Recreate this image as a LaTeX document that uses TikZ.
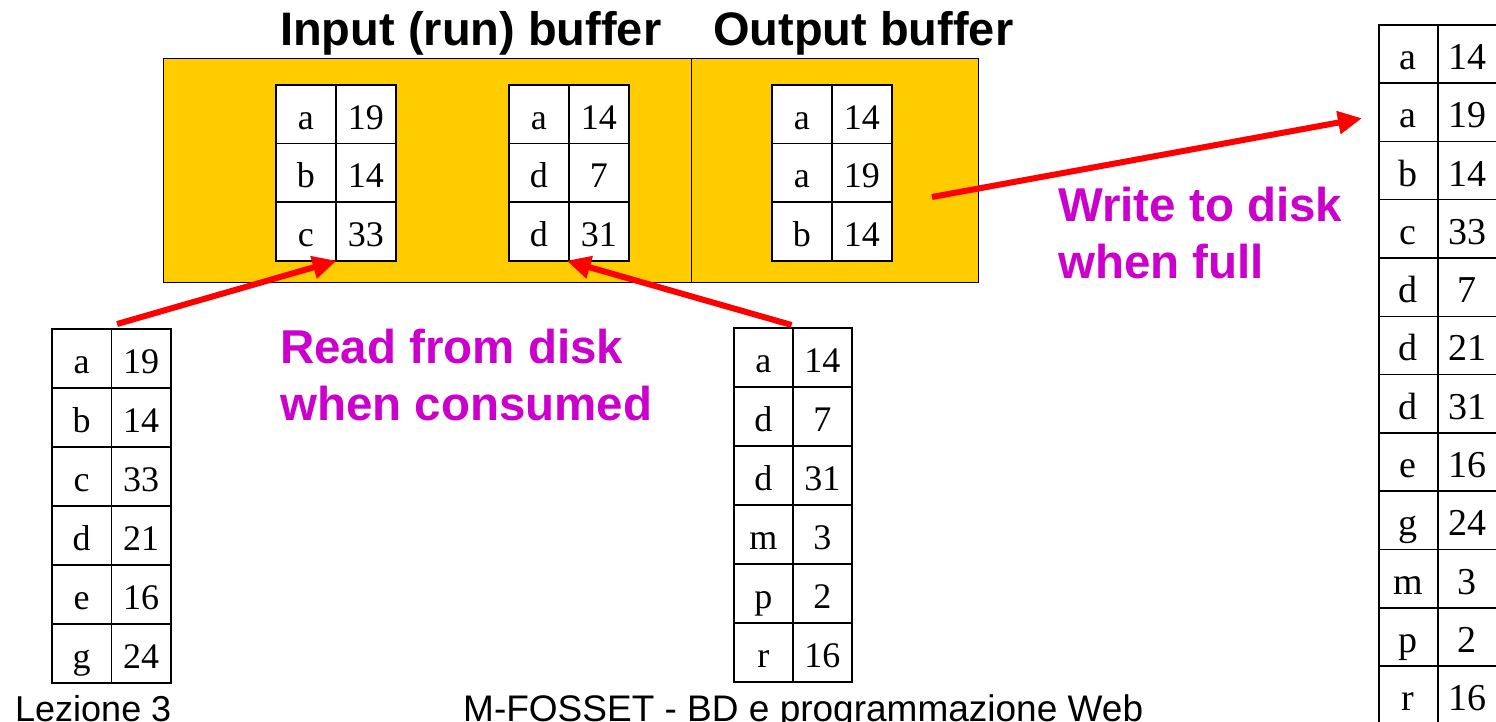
\documentclass[tikz,border=0pt]{standalone}
\usepackage{fontspec}
\setmainfont{Liberation Serif}
\newfontfamily\arialfont{Liberation Sans}
\usetikzlibrary{arrows.meta,calc}

\definecolor{bufyellow}{RGB}{255,204,0}
\definecolor{notemagenta}{RGB}{204,0,204}
\definecolor{arrowred}{RGB}{255,0,0}

\tikzset{
  cell/.style={draw=black, line width=1.6pt, fill=white, inner sep=0pt,
    text depth=0pt, anchor=north west},
  smallcell/.style={font=\fontsize{36}{40}\selectfont, text height=30pt},
  bigcell/.style={font=\fontsize{38}{42}\selectfont, text height=31pt},
  bufbox/.style={draw=black, line width=1.4pt, fill=bufyellow, inner sep=0pt, anchor=north west},
  title/.style={font=\arialfont\bfseries\fontsize{47}{52}\selectfont, inner sep=0pt, anchor=base west},
  note/.style={font=\arialfont\bfseries\fontsize{47.5}{57}\selectfont, text=notemagenta,
    align=left, inner sep=0pt, anchor=north west},
  footer/.style={inner sep=0pt, anchor=base west},
  redarrow/.style={draw=arrowred, line width=6pt, -{Triangle[length=24pt,width=22pt]}},
}

% two-column run table: name, left x, top y, column width, row height, cell style, key/value list
\newcommand{\runtable}[7]{%
  \foreach \k/\v [count=\i from 1] in {#7} {%
    \node[cell, #6, minimum width=#4, minimum height=#5] (#1-\i-k)
      at (#2, {#3+(\i-1)*#5}) {\k};
    \node[cell, #6, minimum width=#4, minimum height=#5] (#1-\i-v)
      at ({#2+#4}, {#3+(\i-1)*#5}) {\v};
  }%
}

\begin{document}
\begin{tikzpicture}[x=1pt,y=-1pt]
  \useasboundingbox (0,0) rectangle (1496,722);
  \clip (0,0) rectangle (1496,722);

  % headings
  \node[title] (intitle) at (280,46) {Input (run) buffer};
  \node[title] (outtitle) at (713,46) {Output buffer};

  % main-memory buffers
  \node[bufbox, minimum width=528, minimum height=224] (inbuf) at (163,58) {};
  \node[bufbox, minimum width=287, minimum height=224] (outbuf) at (691,58) {};

  % pages currently in memory
  \runtable{ia}{275}{84}{60}{58.7}{smallcell}{a/19,b/14,c/33}
  \runtable{ib}{508}{84}{60}{58.7}{smallcell}{a/14,d/7,d/31}
  \runtable{ob}{771}{84}{60}{58.7}{smallcell}{a/14,a/19,b/14}

  % sorted runs on disk
  \runtable{ra}{51}{328}{59.5}{59}{smallcell}{a/19,b/14,c/33,d/21,e/16,g/24}
  \runtable{rb}{733}{327}{59}{59}{smallcell}{a/14,d/7,d/31,m/3,p/2,r/16}

  % merged output run on disk
  \runtable{mo}{1378}{24}{59}{58.3}{bigcell}{a/14,a/19,b/14,c/33,d/7,d/21,d/31,e/16,g/24,m/3,p/2,r/16}

  % annotations
  \node[note] (readnote) at (280,329) {Read from disk\\when consumed};
  \node[note] (writenote) at (1058,187) {Write to disk\\when full};

  % data movement
  \coordinate (flush) at (932,197);
  \draw[redarrow] ($(ra-1-k.north east)+(5,-4)$) -- ($(ia-3-k.south east)+(0,-1)$);
  \draw[redarrow] ($(rb-1-k.north east)+(-2,-2)$) -- ($(ib-3-k.south east)+(-3,-1)$);
  \draw[redarrow] (flush) -- ($(mo-2-k.west)+(-16,6)$);

  % footer
  \node[footer, font=\arialfont\fontsize{36}{40}\selectfont] (lesson) at (15,721) {Lezione 3};
  \node[footer, font=\arialfont\fontsize{37}{40}\selectfont] (course) at (463,721) {M-FOSSET - BD e programmazione Web};
\end{tikzpicture}
\end{document}
